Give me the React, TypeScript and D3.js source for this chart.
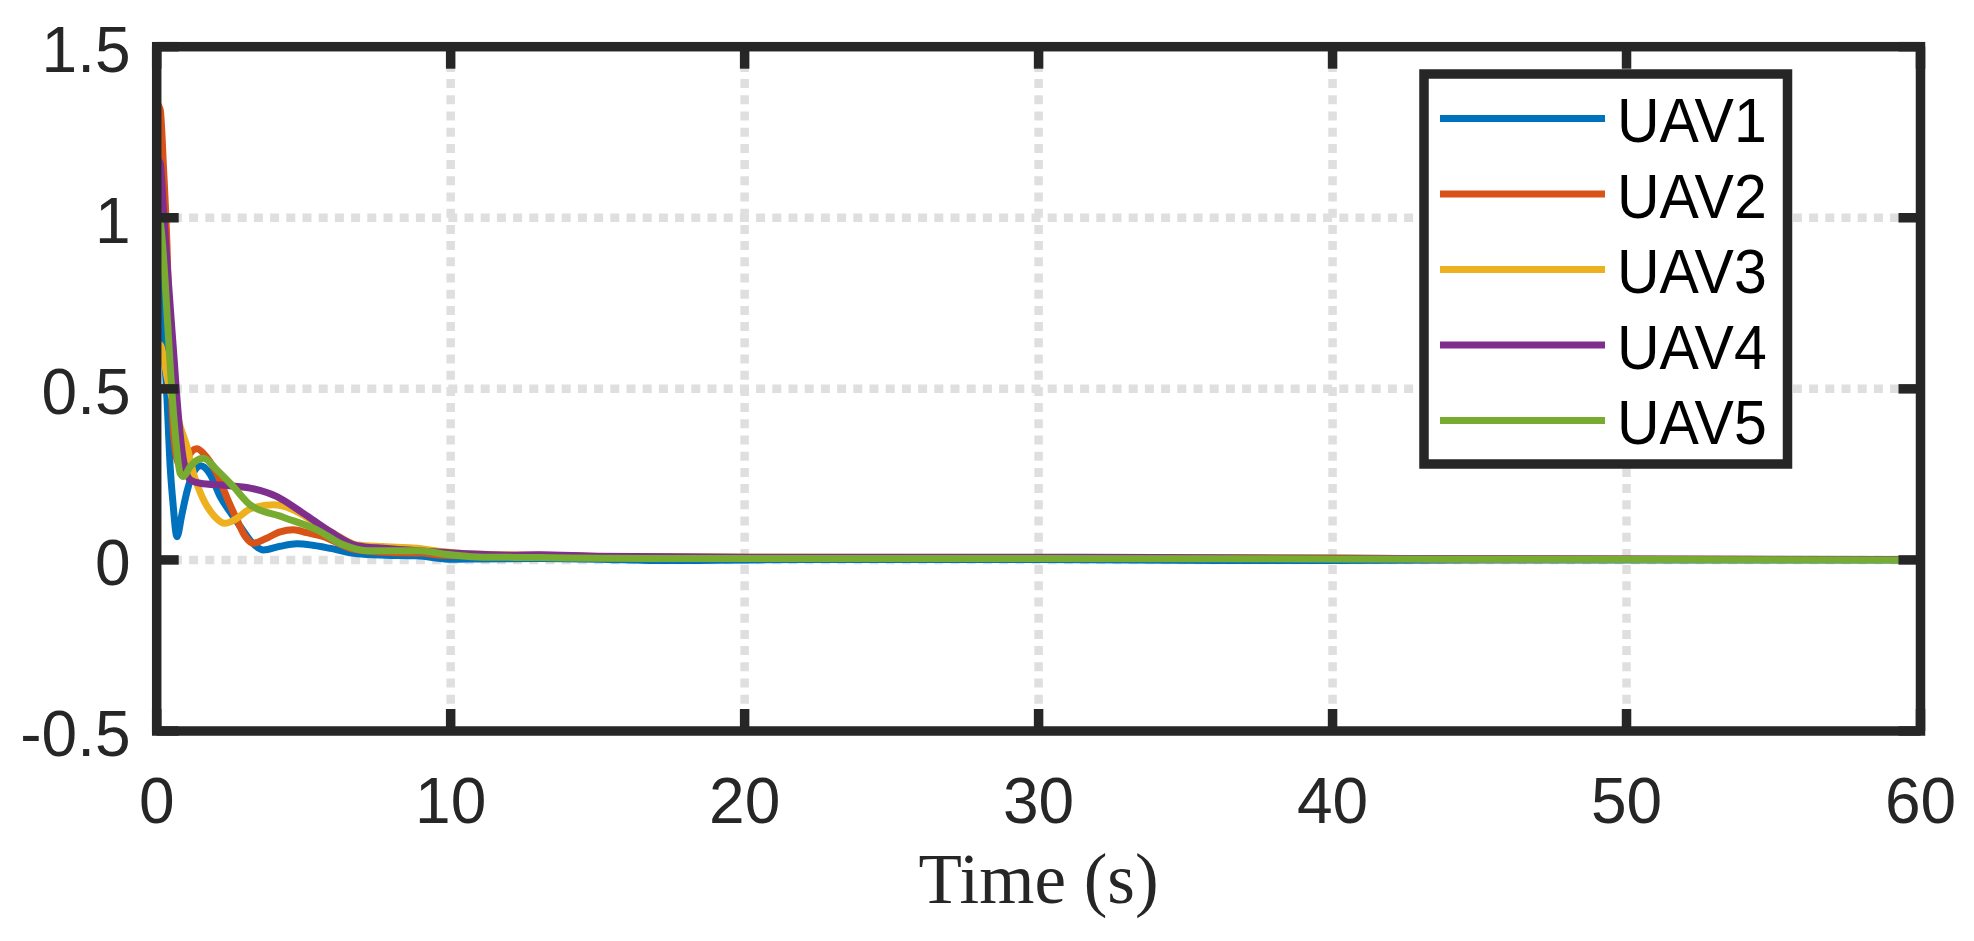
import React from "react";
import * as d3 from "d3";

const xTicks = [0, 10, 20, 30, 40, 50, 60];
const yTicks = [-0.5, 0, 0.5, 1, 1.5];
const yTickLabels = ["-0.5", "0", "0.5", "1", "1.5"];
const seriesNames = ["UAV1", "UAV2", "UAV3", "UAV4", "UAV5"];
const seriesColors = ["#0072BD", "#D95319", "#EDB120", "#7E2F8E", "#77AC30"];

const uav1: [number, number][] = [
  [0, 1.01], [0.12, 0.9], [0.23, 0.66], [0.35, 0.47], [0.46, 0.27], [0.55, 0.17], [0.69, 0.068],
  [0.85, 0.13], [1.03, 0.2], [1.25, 0.255], [1.5, 0.275], [1.82, 0.25], [2.16, 0.185], [2.5, 0.14],
  [2.85, 0.097], [3.2, 0.055], [3.63, 0.029], [4.2, 0.04], [4.77, 0.047], [5.3, 0.043], [5.9, 0.034],
  [6.81, 0.018], [7.8, 0.014], [8.85, 0.012], [10, 0.002], [11, 0.003], [13, 0.004], [15, 0.002],
  [17, -0.002], [19, -0.001], [22, 0.001], [30, 0.001], [36, -0.002], [40, -0.002], [45, 0], [60, 0],
];
const uav2: [number, number][] = [
  [0, 1.335], [0.12, 1.316], [0.23, 1.15], [0.35, 0.92], [0.45, 0.62], [0.55, 0.4], [0.7, 0.29],
  [0.85, 0.27], [1.0, 0.29], [1.2, 0.318], [1.37, 0.325], [1.7, 0.3], [2.06, 0.25], [2.4, 0.18],
  [2.74, 0.115], [3.0, 0.07], [3.29, 0.049], [3.7, 0.062], [4.2, 0.082], [4.65, 0.088], [5.1, 0.08],
  [5.67, 0.068], [6.58, 0.034], [7.15, 0.026], [8, 0.022], [9, 0.02], [9.65, 0.014], [11, 0.012],
  [13, 0.014], [15, 0.01], [18, 0.008], [25, 0.006], [35, 0.005], [40, 0.004], [50, 0.002], [60, 0.001],
];
const uav3: [number, number][] = [
  [0, 0.624], [0.12, 0.628], [0.23, 0.594], [0.35, 0.536], [0.6, 0.45], [0.8, 0.39], [1.03, 0.331],
  [1.25, 0.253], [1.54, 0.185], [1.95, 0.129], [2.33, 0.107], [2.7, 0.12], [3.2, 0.15], [3.97, 0.161],
  [4.4, 0.155], [4.88, 0.136], [5.45, 0.105], [6.01, 0.078], [6.81, 0.044], [7.71, 0.039], [8.85, 0.034],
  [9.76, 0.024], [10.55, 0.018], [12, 0.015], [13, 0.014], [15, 0.01], [20, 0.008], [30, 0.007],
  [40, 0.006], [45, 0.003], [60, 0.001],
];
const uav4: [number, number][] = [
  [0, 1.174], [0.12, 1.16], [0.23, 1.02], [0.4, 0.81], [0.57, 0.614], [0.74, 0.42], [0.91, 0.292],
  [1.14, 0.234], [1.48, 0.224], [2.29, 0.218], [3.18, 0.21], [4.09, 0.185], [4.99, 0.136], [5.9, 0.083],
  [6.81, 0.042], [7.71, 0.034], [9.42, 0.024], [10.55, 0.018], [12, 0.014], [13, 0.015], [15, 0.011],
  [20, 0.008], [30, 0.008], [34, 0.007], [40, 0.005], [60, 0.001],
];
const uav5: [number, number][] = [
  [0, 1.004], [0.12, 0.985], [0.29, 0.81], [0.46, 0.565], [0.63, 0.37], [0.8, 0.253], [0.91, 0.244],
  [1.14, 0.273], [1.59, 0.297], [2.05, 0.263], [2.61, 0.214], [3.18, 0.161], [4.3, 0.125], [5.45, 0.088],
  [6.35, 0.044], [7.15, 0.027], [8.85, 0.027], [10, 0.015], [11.1, 0.008], [13, 0.007], [15, 0.005],
  [20, 0.004], [30, 0.004], [40, 0.003], [60, 0],
];
const seriesData = [uav1, uav2, uav3, uav4, uav5];

const W = 1974;
const H = 941;
const L = 156.7, R = 1920.5, T = 46.7, B = 731;
const AX = "#262626";
const SANS = "'Liberation Sans', Arial, Helvetica, sans-serif";
const SERIF = "'Liberation Serif', 'Times New Roman', serif";

export default function App() {
  const x = d3.scaleLinear().domain([0, 60]).range([L, R]);
  const y = d3.scaleLinear().domain([-0.5, 1.5]).range([B, T]);
  const line = d3
    .line<[number, number]>()
    .x((d) => x(d[0]))
    .y((d) => y(d[1]))
    .curve(d3.curveMonotoneX);
  const tickLen = 22;
  const legX0 = 1424, legX1 = 1787.5, legY0 = 74, legY1 = 464;
  const rowY = (i: number) => 118.5 + i * 75.5;

  return (
    <svg width={W} height={H} style={{ position: "absolute", left: 0, top: 0, background: "#fff" }}>
      <rect x={0} y={0} width={W} height={H} fill="#fff" />
      <defs>
        <clipPath id="plotclip">
          <rect x={L} y={T} width={R - L} height={B - T} />
        </clipPath>
      </defs>
      {/* grid */}
      <g stroke="#dfdfdf" strokeWidth={8.5} strokeDasharray="9 7.2">
        {xTicks.filter((t) => t > 0 && t < 60).map((t) => (
          <line key={"gx" + t} x1={x(t)} x2={x(t)} y1={T} y2={B} />
        ))}
        {yTicks.filter((t) => t > -0.5 && t < 1.5).map((t) => (
          <line key={"gy" + t} x1={L} x2={R} y1={y(t)} y2={y(t)} />
        ))}
      </g>
      {/* series */}
      <g clipPath="url(#plotclip)" fill="none" strokeWidth={7} strokeLinejoin="round" strokeLinecap="round">
        {seriesData.map((d, i) => (
          <path key={"s" + i} d={line(d) || ""} stroke={seriesColors[i]} />
        ))}
      </g>
      {/* ticks */}
      <g stroke={AX} strokeWidth={9.5}>
        {xTicks.map((t) => (
          <g key={"tx" + t}>
            <line x1={x(t)} x2={x(t)} y1={B} y2={B - tickLen} />
            <line x1={x(t)} x2={x(t)} y1={T} y2={T + tickLen} />
          </g>
        ))}
        {yTicks.map((t) => (
          <g key={"ty" + t}>
            <line x1={L} x2={L + tickLen} y1={y(t)} y2={y(t)} />
            <line x1={R} x2={R - tickLen} y1={y(t)} y2={y(t)} />
          </g>
        ))}
      </g>
      <rect x={L} y={T} width={R - L} height={B - T} fill="none" stroke={AX} strokeWidth={9.5} />
      {/* tick labels */}
      <g fill={AX} fontFamily={SANS} fontSize={64}>
        {xTicks.map((t) => (
          <text key={"lx" + t} x={x(t)} y={823} textAnchor="middle">{String(t)}</text>
        ))}
        {yTicks.map((t, i) => (
          <text key={"ly" + t} x={130.5} y={y(t) + 25} textAnchor="end">{yTickLabels[i]}</text>
        ))}
      </g>
      <text x={(L + R) / 2} y={903} textAnchor="middle" fontFamily={SERIF} fontSize={71} fill={AX}>
        Time (s)
      </text>
      {/* legend */}
      <rect x={legX0} y={legY0} width={legX1 - legX0} height={legY1 - legY0} fill="#fff" stroke={AX} strokeWidth={9.5} />
      {seriesNames.map((n, i) => (
        <g key={"lg" + i}>
          <line x1={1440} x2={1605} y1={rowY(i)} y2={rowY(i)} stroke={seriesColors[i]} strokeWidth={7} />
          <text
            transform={`translate(1617, ${rowY(i) + 23.5}) scale(1, 1.07)`}
            fontFamily={SANS}
            fontSize={59}
            fill="#000"
          >
            {n}
          </text>
        </g>
      ))}
    </svg>
  );
}
